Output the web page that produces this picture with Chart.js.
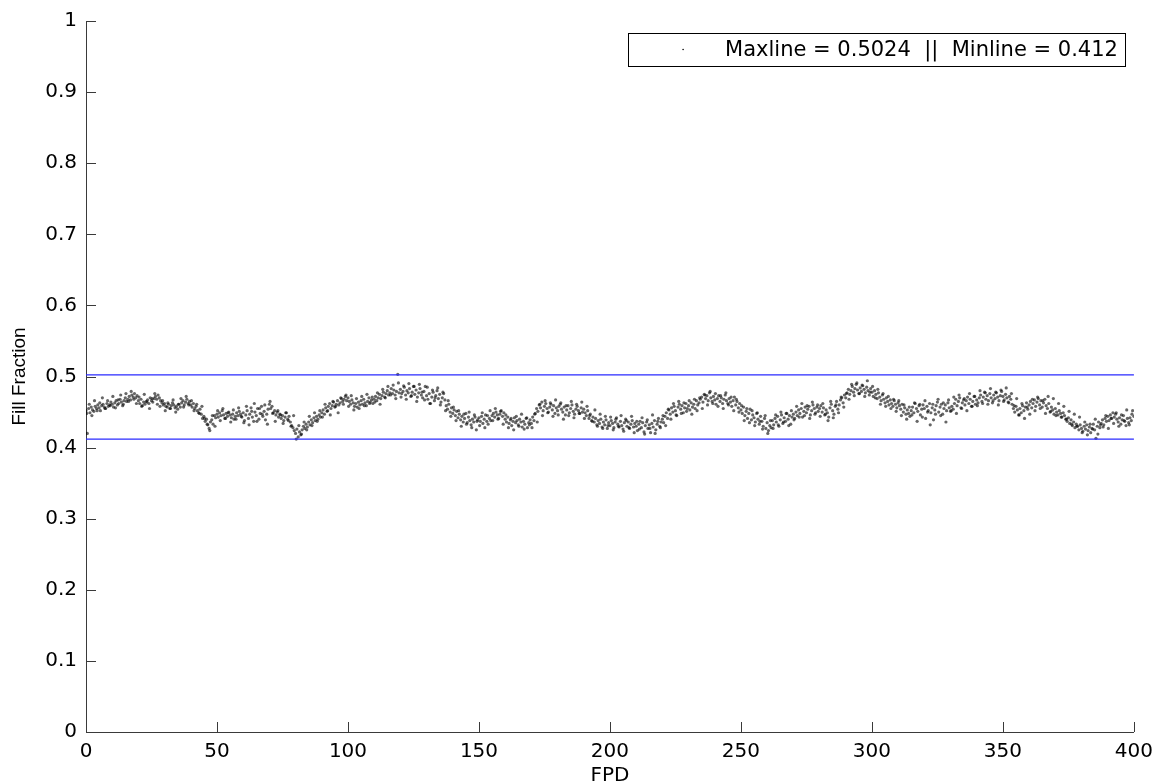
<!DOCTYPE html>
<html>
<head>
<meta charset="utf-8">
<script src="https://cdn.jsdelivr.net/npm/chart.js@4.4.1/dist/chart.umd.min.js"></script>
<style>
  html, body { margin: 0; padding: 0; background: #ffffff; }
  #wrap { width: 1161px; height: 784px; }
</style>
</head>
<body>
<div id="wrap"><canvas id="c" width="1161" height="784"></canvas></div>
<script>
// ---- data ----
const xTitle = 'FPD';
const yTitle = 'Fill Fraction';
const xTicks = [0, 50, 100, 150, 200, 250, 300, 350, 400];
const yTicks = [0, 0.1, 0.2, 0.3, 0.4, 0.5, 0.6, 0.7, 0.8, 0.9, 1];
const maxLine = 0.5024;
const minLine = 0.412;

// samples A: FPD = 0, 0.5, 1.0, ... 400
const fpdStepA = 0.5;
const fillFractionA = [
  0.452,0.420,0.455,0.449,0.457,0.453,0.451,0.458,0.455,0.460,0.456,0.452,0.459,0.461,0.457,0.455,0.462,0.458,0.460,0.464,
  0.461,0.457,0.463,0.466,0.460,0.462,0.468,0.464,0.459,0.466,0.470,0.465,0.468,0.472,0.467,0.474,0.471,0.476,0.470,0.473,
  0.466,0.462,0.468,0.459,0.464,0.461,0.465,0.467,0.462,0.470,0.466,0.464,0.469,0.472,0.468,0.474,0.470,0.466,0.463,0.460,
  0.462,0.458,0.457,0.461,0.455,0.459,0.463,0.460,0.456,0.458,0.454,0.461,0.457,0.463,0.466,0.460,0.464,0.468,0.462,0.465,
  0.460,0.457,0.462,0.455,0.458,0.452,0.449,0.454,0.447,0.441,0.444,0.437,0.440,0.432,0.427,0.436,0.439,0.433,0.445,0.442,
  0.447,0.443,0.449,0.445,0.452,0.446,0.441,0.448,0.444,0.450,0.446,0.442,0.447,0.440,0.444,0.449,0.445,0.451,0.447,0.443,
  0.449,0.438,0.446,0.452,0.441,0.447,0.456,0.443,0.437,0.450,0.445,0.455,0.440,0.448,0.458,0.444,0.451,0.439,0.447,0.454,
  0.461,0.455,0.458,0.449,0.452,0.446,0.450,0.443,0.447,0.441,0.445,0.438,0.443,0.449,0.440,0.444,0.436,0.431,0.428,0.424,
  0.420,0.426,0.415,0.422,0.418,0.425,0.430,0.427,0.433,0.429,0.436,0.432,0.439,0.435,0.442,0.438,0.444,0.440,0.446,0.443,
  0.449,0.453,0.447,0.456,0.451,0.458,0.462,0.455,0.459,0.464,0.457,0.461,0.466,0.460,0.463,0.469,0.465,0.468,0.472,0.466,
  0.470,0.465,0.461,0.467,0.463,0.458,0.462,0.457,0.464,0.460,0.466,0.461,0.468,0.463,0.459,0.465,0.470,0.464,0.467,0.462,
  0.468,0.472,0.466,0.470,0.475,0.469,0.473,0.478,0.471,0.476,0.480,0.474,0.477,0.483,0.476,0.481,0.474,0.479,0.503,0.477,
  0.482,0.476,0.479,0.485,0.474,0.480,0.477,0.483,0.472,0.478,0.486,0.475,0.481,0.471,0.477,0.483,0.474,0.470,0.479,0.486,
  0.473,0.468,0.476,0.462,0.471,0.478,0.466,0.473,0.480,0.469,0.475,0.464,0.470,0.476,0.467,0.459,0.454,0.461,0.450,0.456,
  0.448,0.453,0.445,0.451,0.442,0.447,0.439,0.444,0.436,0.441,0.448,0.435,0.443,0.438,0.432,0.440,0.436,0.443,0.425,0.439,
  0.442,0.437,0.444,0.434,0.440,0.446,0.437,0.433,0.441,0.438,0.445,0.448,0.443,0.450,0.446,0.441,0.447,0.452,0.444,0.449,
  0.440,0.436,0.443,0.434,0.439,0.431,0.437,0.442,0.435,0.438,0.432,0.440,0.436,0.429,0.437,0.433,0.441,0.428,0.435,0.439,
  0.434,0.443,0.438,0.448,0.455,0.451,0.460,0.456,0.464,0.452,0.458,0.462,0.455,0.450,0.457,0.461,0.453,0.459,0.448,0.456,
  0.452,0.458,0.461,0.454,0.450,0.457,0.446,0.453,0.459,0.449,0.455,0.460,0.451,0.447,0.454,0.458,0.452,0.448,0.456,0.450,
  0.454,0.449,0.445,0.452,0.441,0.447,0.438,0.443,0.436,0.441,0.432,0.438,0.434,0.440,0.429,0.436,0.432,0.439,0.427,0.435,
  0.431,0.438,0.434,0.428,0.436,0.442,0.433,0.429,0.437,0.431,0.426,0.435,0.440,0.430,0.436,0.427,0.433,0.438,0.429,0.434,
  0.430,0.424,0.433,0.437,0.428,0.435,0.422,0.431,0.436,0.427,0.432,0.421,0.434,0.429,0.438,0.425,0.433,0.441,0.430,0.436,
  0.440,0.435,0.444,0.449,0.441,0.453,0.447,0.456,0.450,0.458,0.452,0.445,0.457,0.461,0.454,0.459,0.449,0.456,0.462,0.455,
  0.459,0.453,0.463,0.457,0.461,0.455,0.466,0.460,0.463,0.468,0.471,0.464,0.475,0.469,0.473,0.466,0.477,0.470,0.465,0.472,
  0.467,0.461,0.469,0.473,0.465,0.470,0.462,0.468,0.474,0.466,0.462,0.469,0.464,0.458,0.466,0.471,0.460,0.465,0.456,0.462,
  0.453,0.448,0.457,0.445,0.451,0.441,0.448,0.454,0.439,0.446,0.442,0.436,0.448,0.440,0.433,0.444,0.437,0.430,0.441,0.427,
  0.435,0.424,0.431,0.428,0.438,0.432,0.441,0.436,0.444,0.430,0.439,0.446,0.434,0.442,0.437,0.448,0.440,0.445,0.433,0.443,
  0.447,0.441,0.450,0.445,0.453,0.448,0.455,0.443,0.451,0.457,0.449,0.454,0.458,0.446,0.452,0.460,0.455,0.449,0.457,0.451,
  0.455,0.459,0.450,0.456,0.446,0.453,0.449,0.443,0.456,0.461,0.452,0.447,0.458,0.465,0.454,0.460,0.467,0.470,0.463,0.474,
  0.470,0.477,0.482,0.475,0.480,0.486,0.478,0.483,0.489,0.481,0.476,0.484,0.479,0.487,0.482,0.477,0.485,0.480,0.474,0.483,
  0.478,0.472,0.480,0.475,0.469,0.477,0.471,0.466,0.474,0.468,0.463,0.470,0.465,0.460,0.467,0.462,0.458,0.466,0.461,0.456,
  0.463,0.459,0.454,0.461,0.450,0.456,0.447,0.453,0.448,0.444,0.452,0.457,0.449,0.462,0.455,0.451,0.459,0.446,0.454,0.460,
  0.455,0.441,0.458,0.452,0.462,0.449,0.456,0.439,0.453,0.459,0.464,0.450,0.457,0.461,0.447,0.455,0.460,0.452,0.463,0.456,
  0.451,0.458,0.454,0.462,0.468,0.459,0.465,0.470,0.456,0.463,0.467,0.460,0.466,0.471,0.462,0.468,0.458,0.465,0.472,0.461,
  0.467,0.463,0.470,0.474,0.465,0.471,0.478,0.468,0.473,0.466,0.476,0.470,0.463,0.474,0.469,0.477,0.471,0.466,0.473,0.479,
  0.472,0.467,0.475,0.470,0.464,0.472,0.468,0.461,0.455,0.450,0.458,0.453,0.446,0.455,0.449,0.459,0.452,0.457,0.463,0.454,
  0.460,0.465,0.456,0.462,0.467,0.458,0.464,0.469,0.460,0.466,0.457,0.463,0.468,0.459,0.455,0.462,0.450,0.457,0.453,0.447,
  0.455,0.450,0.446,0.452,0.448,0.443,0.449,0.445,0.440,0.437,0.442,0.434,0.439,0.431,0.436,0.428,0.433,0.430,0.425,0.432,
  0.427,0.423,0.430,0.426,0.432,0.424,0.429,0.421,0.427,0.433,0.425,0.413,0.430,0.436,0.428,0.434,0.439,0.432,0.441,0.437,
  0.444,0.438,0.446,0.441,0.449,0.443,0.447,0.440,0.436,0.442,0.433,0.439,0.445,0.437,0.431,0.441,0.435,0.442,0.438,0.452,
  0.444
];

// samples B: FPD = 0.25, 1.25, 2.25, ... 399.25
const fpdStartB = 0.25;
const fpdStepB = 1;
const fillFractionB = [
  0.448,0.461,0.445,0.466,0.452,0.463,0.470,0.455,0.466,0.459,0.472,0.456,0.467,0.474,0.461,0.476,0.465,0.479,0.468,0.462,
  0.471,0.458,0.475,0.464,0.455,0.469,0.476,0.461,0.458,0.466,0.452,0.463,0.455,0.467,0.450,0.461,0.469,0.457,0.472,0.460,
  0.466,0.452,0.461,0.448,0.458,0.441,0.433,0.424,0.445,0.430,0.452,0.438,0.455,0.441,0.449,0.436,0.453,0.440,0.456,0.444,
  0.435,0.458,0.432,0.451,0.462,0.437,0.455,0.447,0.460,0.433,0.465,0.448,0.437,0.452,0.446,0.434,0.449,0.438,0.430,0.445,
  0.412,0.431,0.419,0.436,0.425,0.444,0.431,0.449,0.437,0.452,0.443,0.461,0.452,0.446,0.465,0.458,0.449,0.470,0.461,0.474,
  0.458,0.473,0.453,0.469,0.455,0.472,0.459,0.475,0.462,0.471,0.464,0.477,0.461,0.482,0.470,0.486,0.474,0.488,0.469,0.491,
  0.471,0.487,0.468,0.490,0.473,0.486,0.465,0.489,0.478,0.467,0.485,0.462,0.481,0.470,0.484,0.460,0.478,0.452,0.466,0.444,
  0.457,0.438,0.452,0.430,0.447,0.433,0.450,0.428,0.446,0.437,0.431,0.449,0.428,0.445,0.452,0.438,0.455,0.440,0.451,0.433,
  0.446,0.428,0.441,0.425,0.444,0.430,0.447,0.426,0.442,0.432,0.428,0.447,0.436,0.461,0.445,0.466,0.449,0.463,0.444,0.467,
  0.446,0.463,0.440,0.459,0.445,0.465,0.442,0.461,0.448,0.464,0.441,0.458,0.445,0.437,0.453,0.430,0.447,0.427,0.444,0.431,
  0.443,0.425,0.440,0.430,0.445,0.423,0.438,0.428,0.444,0.421,0.437,0.426,0.442,0.419,0.439,0.427,0.446,0.420,0.437,0.428,
  0.445,0.431,0.454,0.440,0.462,0.446,0.465,0.448,0.463,0.451,0.466,0.447,0.468,0.452,0.470,0.455,0.474,0.460,0.479,0.462,
  0.476,0.458,0.473,0.455,0.477,0.460,0.471,0.452,0.468,0.450,0.459,0.438,0.455,0.435,0.452,0.431,0.449,0.437,0.426,0.445,
  0.420,0.438,0.427,0.446,0.432,0.450,0.436,0.448,0.431,0.452,0.439,0.458,0.443,0.462,0.445,0.459,0.441,0.464,0.447,0.460,
  0.444,0.462,0.447,0.438,0.465,0.442,0.460,0.449,0.471,0.457,0.476,0.468,0.489,0.473,0.491,0.476,0.488,0.472,0.494,0.478,
  0.486,0.470,0.482,0.461,0.476,0.458,0.472,0.455,0.468,0.451,0.466,0.445,0.460,0.440,0.457,0.446,0.463,0.437,0.461,0.443,
  0.466,0.450,0.432,0.461,0.447,0.468,0.445,0.463,0.436,0.467,0.452,0.471,0.448,0.474,0.455,0.469,0.452,0.476,0.458,0.472,
  0.459,0.480,0.462,0.477,0.461,0.483,0.466,0.478,0.460,0.481,0.465,0.484,0.463,0.476,0.459,0.469,0.446,0.462,0.441,0.457,
  0.447,0.468,0.452,0.471,0.455,0.466,0.448,0.472,0.451,0.469,0.445,0.462,0.443,0.458,0.440,0.451,0.433,0.447,0.430,0.443,
  0.421,0.436,0.418,0.433,0.426,0.440,0.419,0.432,0.429,0.445,0.427,0.441,0.434,0.449,0.430,0.446,0.438,0.453,0.432,0.447
];

// ---- build chart ----
const scatterPoints = fillFractionA.map((v, i) => ({ x: i * fpdStepA, y: v }))
  .concat(fillFractionB.map((v, i) => ({ x: fpdStartB + i * fpdStepB, y: v })));
const xMin = xTicks[0], xMax = xTicks[xTicks.length - 1];
const legendText = 'Maxline = ' + maxLine + '  ||  Minline = ' + minLine;

const tickFont = { family: '"DejaVu Sans", Arial, sans-serif', size: 20 };
const axisColor = '#3a3a3a';

const inwardTicks = {
  id: 'inwardTicks',
  afterDraw(chart) {
    const { ctx, chartArea, scales } = chart;
    ctx.save();
    ctx.strokeStyle = axisColor;
    ctx.lineWidth = 1;
    const len = 10;
    scales.x.ticks.forEach(t => {
      const px = Math.round(scales.x.getPixelForValue(t.value)) + 0.5;
      ctx.beginPath();
      ctx.moveTo(px, chartArea.bottom);
      ctx.lineTo(px, chartArea.bottom - len);
      ctx.stroke();
    });
    scales.y.ticks.forEach(t => {
      const py = Math.round(scales.y.getPixelForValue(t.value)) + 0.5;
      ctx.beginPath();
      ctx.moveTo(chartArea.left, py);
      ctx.lineTo(chartArea.left + len, py);
      ctx.stroke();
    });
    ctx.restore();
  }
};

const boxLegend = {
  id: 'boxLegend',
  afterDraw(chart) {
    const { ctx, chartArea } = chart;
    ctx.save();
    ctx.font = '21px "DejaVu Sans", Arial, sans-serif';
    const tw = ctx.measureText(legendText).width;
    const right = chartArea.right - 9;
    const top = chartArea.top + 12;
    const h = 33;
    const textRight = right - 7;
    const textLeft = textRight - tw;
    const left = textLeft - 97;
    ctx.fillStyle = '#ffffff';
    ctx.fillRect(left, top, right - left, h);
    ctx.strokeStyle = '#000000';
    ctx.lineWidth = 1;
    ctx.strokeRect(Math.round(left) + 0.5, Math.round(top) + 0.5, Math.round(right - left), h);
    ctx.fillStyle = '#000000';
    ctx.beginPath();
    ctx.arc(left + 55, top + h / 2, 0.8, 0, Math.PI * 2);
    ctx.fill();
    ctx.textBaseline = 'middle';
    ctx.textAlign = 'left';
    ctx.fillText(legendText, textLeft, top + h / 2 + 1);
    ctx.restore();
  }
};

new Chart(document.getElementById('c'), {
  type: 'scatter',
  data: {
    datasets: [
      {
        label: legendText,
        data: scatterPoints,
        pointRadius: 1.6,
        pointHoverRadius: 1.6,
        pointStyle: 'circle',
        pointBackgroundColor: 'rgba(0,0,0,0.6)',
        pointBorderWidth: 0,
        showLine: false,
        order: 2
      },
      {
        type: 'line',
        label: 'Maxline',
        data: [{ x: xMin, y: maxLine }, { x: xMax, y: maxLine }],
        borderColor: '#2a2aff',
        borderWidth: 1.2,
        pointRadius: 0,
        fill: false,
        order: 1
      },
      {
        type: 'line',
        label: 'Minline',
        data: [{ x: xMin, y: minLine }, { x: xMax, y: minLine }],
        borderColor: '#2a2aff',
        borderWidth: 1.2,
        pointRadius: 0,
        fill: false,
        order: 1
      }
    ]
  },
  options: {
    responsive: false,
    animation: false,
    events: [],
    layout: { padding: { top: 20, right: 21, left: 0, bottom: 0 } },
    plugins: {
      legend: { display: false },
      tooltip: { enabled: false }
    },
    scales: {
      x: {
        type: 'linear',
        min: xMin,
        max: xMax,
        afterBuildTicks(scale) { scale.ticks = xTicks.map(v => ({ value: v })); },
        afterFit(scale) { scale.height = 52; },
        ticks: {
          font: tickFont,
          color: '#000000',
          padding: 8,
          maxRotation: 0,
          autoSkip: false,
          callback: (v) => String(v)
        },
        grid: { display: false, drawTicks: false },
        border: { display: true, color: axisColor, width: 1 },
        title: {
          display: true,
          text: xTitle,
          font: { family: '"DejaVu Sans", Arial, sans-serif', size: 20, lineHeight: 0.8 },
          color: '#000000',
          padding: { top: 0, bottom: 0 }
        }
      },
      y: {
        type: 'linear',
        min: yTicks[0],
        max: yTicks[yTicks.length - 1],
        afterBuildTicks(scale) { scale.ticks = yTicks.map(v => ({ value: v })); },
        afterFit(scale) { scale.width = 86; },
        ticks: {
          font: tickFont,
          color: '#000000',
          padding: 9,
          autoSkip: false,
          callback: (v) => String(v)
        },
        grid: { display: false, drawTicks: false },
        border: { display: true, color: axisColor, width: 1 },
        title: {
          display: true,
          text: yTitle,
          font: { family: '"Liberation Sans", Arial, sans-serif', size: 19, lineHeight: 1 },
          color: '#000000',
          padding: { top: 10, bottom: 0 }
        }
      }
    }
  },
  plugins: [inwardTicks, boxLegend]
});
</script>
</body>
</html>
